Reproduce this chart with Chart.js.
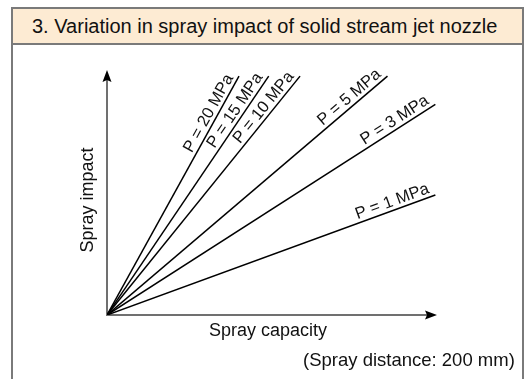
<!DOCTYPE html>
<html lang="en">
<head>
<meta charset="UTF-8">
<title>Spray impact of solid stream jet nozzle</title>
<script src="https://cdn.jsdelivr.net/npm/chart.js"></script>
<style>
  body { margin: 0; width: 527px; height: 379px; overflow: hidden; background: #fff;
         font-family: "Liberation Sans", Arial, sans-serif; position: relative; color: #111; }
  .panel { position: absolute; left: 11px; top: 7px; width: 513px; height: 400px;
           border: 2px solid #7a7a7a; border-bottom: none; box-sizing: border-box; }
  .panel h3 { margin: 0; height: 34px; line-height: 34px; background: #fdebd3;
              border-bottom: 2px solid #7a7a7a; font-weight: normal; font-size: 20px; padding-left: 19px; }
  #chart { position: absolute; left: 0; top: 0; }
  .note { position: absolute; left: 303px; top: 350px; font-size: 18.5px; line-height: 20px; }
</style>
</head>
<body>
  <div class="panel">
    <h3>3. Variation in spray impact of solid stream jet nozzle</h3>
  </div>
  <canvas id="chart" width="527" height="379"></canvas>
  <div class="note">(Spray distance: 200 mm)</div>

<script>
  // each pressure curve runs straight from the origin to its end point
  const pressures = ["P = 20 MPa", "P = 15 MPa", "P = 10 MPa", "P = 5 MPa", "P = 3 MPa", "P = 1 MPa"];
  const endCapacity = [40, 49, 58.5, 85, 99.5, 99.5];
  const endImpact = [97.5, 97.5, 97.5, 97.5, 86, 49];

  const xTitle = "Spray capacity";
  const yTitle = "Spray impact";

  // gray axes with black arrow heads, plus the two axis captions
  const axesPlugin = {
    id: "arrowAxes",
    beforeDatasetsDraw(chart) {
      const { ctx, chartArea: a } = chart;
      ctx.save();
      ctx.strokeStyle = "#707070";
      ctx.lineWidth = 2;
      ctx.beginPath();
      ctx.moveTo(a.left, a.top + 8);
      ctx.lineTo(a.left, a.bottom);
      ctx.lineTo(a.right - 8, a.bottom);
      ctx.stroke();

      ctx.fillStyle = "#000";
      ctx.beginPath();
      ctx.moveTo(a.left, a.top);
      ctx.lineTo(a.left - 4.5, a.top + 12);
      ctx.lineTo(a.left, a.top + 10);
      ctx.lineTo(a.left + 4.5, a.top + 12);
      ctx.closePath();
      ctx.fill();
      ctx.beginPath();
      ctx.moveTo(a.right, a.bottom);
      ctx.lineTo(a.right - 12, a.bottom - 4.5);
      ctx.lineTo(a.right - 10, a.bottom);
      ctx.lineTo(a.right - 12, a.bottom + 4.5);
      ctx.closePath();
      ctx.fill();

      ctx.fillStyle = "#111";
      ctx.font = '18px "Liberation Sans", Arial, sans-serif';
      ctx.textAlign = "center";
      ctx.textBaseline = "middle";
      ctx.fillText(xTitle, a.left + 161, a.bottom + 16);
      ctx.translate(a.left - 19, a.top + 130);
      ctx.rotate(-Math.PI / 2);
      ctx.fillText(yTitle, 0, 0);
      ctx.restore();
    },
    afterDatasetsDraw(chart) {
      const { ctx } = chart;
      ctx.save();
      ctx.fillStyle = "#111";
      ctx.font = '16.5px "Liberation Sans", Arial, sans-serif';
      ctx.textAlign = "right";
      ctx.textBaseline = "alphabetic";
      chart.data.datasets.forEach((ds, i) => {
        const pts = chart.getDatasetMeta(i).data;
        const p0 = pts[0], p1 = pts[1];
        const ang = Math.atan2(p1.y - p0.y, p1.x - p0.x);
        ctx.save();
        ctx.translate(p1.x, p1.y);
        ctx.rotate(ang);
        ctx.fillText(ds.label, -4, -4);
        ctx.restore();
      });
      ctx.restore();
    }
  };

  new Chart(document.getElementById("chart"), {
    type: "scatter",
    data: {
      datasets: pressures.map((p, i) => ({
        label: p,
        data: [{ x: 0, y: 0 }, { x: endCapacity[i], y: endImpact[i] }],
        showLine: true,
        borderColor: "#000",
        borderWidth: 1.5,
        pointRadius: 0
      }))
    },
    options: {
      responsive: false,
      animation: false,
      layout: { padding: { left: 107, right: 90, top: 70, bottom: 64 } },
      scales: {
        x: { type: "linear", min: 0, max: 100, display: false },
        y: { type: "linear", min: 0, max: 100, display: false }
      },
      plugins: { legend: { display: false }, tooltip: { enabled: false } }
    },
    plugins: [axesPlugin]
  });
</script>
</body>
</html>
